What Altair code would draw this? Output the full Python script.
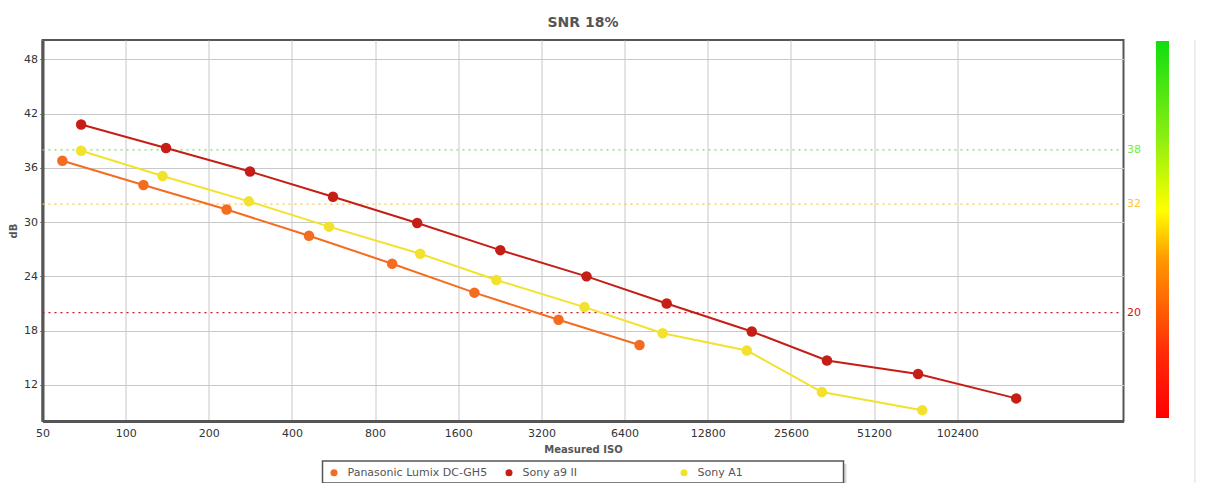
import altair as alt
import pandas as pd

cameras = ["Panasonic Lumix DC-GH5", "Sony a9 II", "Sony A1"]
colors = ["#f46c20", "#c41e16", "#f2e22e"]

iso_gh5 = [59, 116, 232, 461, 922, 1830, 3690, 7250]
db_gh5 = [36.8, 34.1, 31.4, 28.5, 25.4, 22.2, 19.2, 16.4]

iso_a9 = [69, 140, 282, 563, 1136, 2272, 4660, 9090, 18480, 34580, 73900, 167500]
db_a9 = [40.8, 38.2, 35.6, 32.8, 29.9, 26.9, 24.0, 21.0, 17.9, 14.7, 13.2, 10.5]

iso_a1 = [69, 136, 279, 545, 1165, 2198, 4582, 8790, 17730, 33150, 76500]
db_a1 = [37.9, 35.1, 32.3, 29.5, 26.5, 23.6, 20.6, 17.7, 15.8, 11.2, 9.2]

iso_ticks = [50, 100, 200, 400, 800, 1600, 3200, 6400, 12800, 25600, 51200, 102400]
db_ticks = [12, 18, 24, 30, 36, 42, 48]

thr_values = [38, 32, 20]
thr_labels = ["38", "32", "20"]
thr_colors = ["#6fee40", "#ffc233", "#dd1111"]

rows = []
for name, isos, dbs in zip(cameras, [iso_gh5, iso_a9, iso_a1], [db_gh5, db_a9, db_a1]):
    for i, d in zip(isos, dbs):
        rows.append({"camera": name, "iso": i, "db": d})
df = pd.DataFrame(rows)
thr = pd.DataFrame({"db": thr_values, "label": thr_labels, "c": thr_colors})

FONT = "DejaVu Sans"
W, H = 1081, 381

x = alt.X("iso:Q",
          scale=alt.Scale(type="log", base=2, domain=[50, 409600], nice=False),
          axis=alt.Axis(values=iso_ticks, format="d", title="Measured ISO",
                        tickSize=0, labelPadding=6, titlePadding=6, labelFlush=False,
                        labelOverlap=False))
y = alt.Y("db:Q",
          scale=alt.Scale(domain=[8, 50.15], nice=False, zero=False),
          axis=alt.Axis(values=db_ticks, title="dB", tickSize=3, tickColor="#888",
                        labelPadding=2, titlePadding=5))
color = alt.Color("camera:N",
                  scale=alt.Scale(domain=cameras, range=colors),
                  legend=alt.Legend(title=None, orient="none", legendX=280, legendY=421,
                                    direction="horizontal", columns=3, gridAlign="all",
                                    columnPadding=16, padding=6, symbolType="circle",
                                    symbolSize=50, symbolStrokeWidth=0,
                                    labelFont=FONT, labelFontSize=11, labelColor="#555",
                                    labelOffset=8))

base = alt.Chart(df)
lines = base.mark_line(strokeWidth=2).encode(x=x, y=y, color=color)
points = base.mark_circle(size=110, opacity=1).encode(x=x, y=y, color=color)

rules = alt.Chart(thr).mark_rule(strokeDash=[2, 4], strokeWidth=1.2).encode(
    y="db:Q", x=alt.value(0), x2=alt.value(1076),
    stroke=alt.Stroke("c:N", scale=None))
labels = alt.Chart(thr).mark_text(align="left", baseline="middle", fontSize=11, font=FONT).encode(
    y="db:Q", x=alt.value(1084.5), text="label:N",
    fill=alt.Fill("c:N", scale=None))

bar = alt.Chart(pd.DataFrame({"a": [0]})).mark_rect(
    color=alt.Gradient(gradient="linear", x1=0, x2=0, y1=1, y2=0,
                       stops=[alt.GradientStop(color="#ff0000", offset=0),
                              alt.GradientStop(color="#ff2a08", offset=0.17),
                              alt.GradientStop(color="#ff9900", offset=0.42),
                              alt.GradientStop(color="#ffff00", offset=0.55),
                              alt.GradientStop(color="#88ee11", offset=0.75),
                              alt.GradientStop(color="#11dd11", offset=1)])
).encode(x=alt.value(1113.5), x2=alt.value(1126.5), y=alt.value(1), y2=alt.value(378))

edge = alt.Chart(pd.DataFrame({"a": [0]})).mark_rule(color="#dddddd", strokeWidth=1).encode(
    x=alt.value(1152.5), y=alt.value(0), y2=alt.value(450))

shadow = alt.Chart(pd.DataFrame({"a": [0]})).mark_rect(color="#aaaaaa", opacity=0.45).encode(
    x=alt.value(283), x2=alt.value(804), y=alt.value(424), y2=alt.value(446))
legbox = alt.Chart(pd.DataFrame({"a": [0]})).mark_rect(
    fill="white", stroke="#555555", strokeWidth=1.5).encode(
    x=alt.value(280), x2=alt.value(801), y=alt.value(421), y2=alt.value(443))

chart = alt.layer(rules, labels, bar, edge, shadow, legbox, lines, points).properties(
    width=W, height=H,
    title=alt.TitleParams("SNR 18%", font=FONT, fontSize=14, fontWeight="bold",
                          color="#555", offset=10, anchor="middle"),
    autosize=alt.AutoSizeParams(type="none"),
    padding={"left": 34.5, "top": 32, "right": 74, "bottom": 62},
).configure_axis(
    labelFont=FONT, labelFontSize=11, labelColor="#333",
    titleFont=FONT, titleFontSize=10, titleFontWeight="bold", titleColor="#555",
    gridColor="#c8c8c8", gridWidth=1, domainColor="#555", domainWidth=3,
).configure_view(stroke="#555", strokeWidth=2)

chart.save("out.html", embed_options={"renderer": "svg", "actions": False})
